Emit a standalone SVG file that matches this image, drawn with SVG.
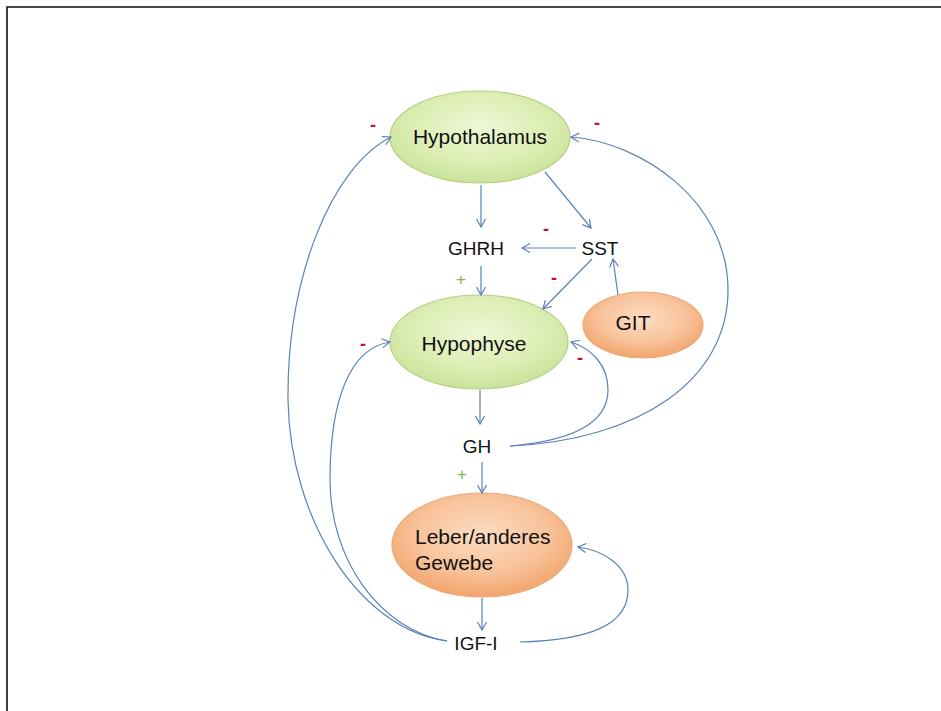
<svg xmlns="http://www.w3.org/2000/svg" width="941" height="711" viewBox="0 0 941 711">
<style>
.lbl{font-family:"Liberation Sans",Arial,sans-serif;font-size:19px;fill:#111;text-anchor:middle}
.nl{font-family:"Liberation Sans",Arial,sans-serif;font-size:21px;fill:#111;text-anchor:middle}
.minus{font-family:"Liberation Sans",Arial,sans-serif;font-size:18px;font-weight:bold;fill:#C0103A;text-anchor:middle}
.plus{font-family:"Liberation Sans",Arial,sans-serif;font-size:17px;fill:#7DB84A;text-anchor:middle}
.green{fill:url(#gG);stroke:#B5CF82;stroke-width:1.2}
.orange{fill:url(#gO);stroke:#E8AB7C;stroke-width:1.2}
.con path{fill:none;stroke:#5A82B8;stroke-width:1.2;marker-end:url(#arr)}
</style>
<defs>
<radialGradient id="gG" cx="0.5" cy="0.4" r="0.6">
<stop offset="0" stop-color="#EEF7D6"/>
<stop offset="0.6" stop-color="#DDEEB5"/>
<stop offset="1" stop-color="#C9E39A"/>
</radialGradient>
<radialGradient id="gO" cx="0.5" cy="0.4" r="0.6">
<stop offset="0" stop-color="#FCDCC2"/>
<stop offset="0.6" stop-color="#F8C39B"/>
<stop offset="1" stop-color="#F2A46C"/>
</radialGradient>
<marker id="arr" markerUnits="userSpaceOnUse" markerWidth="12" markerHeight="12" refX="9" refY="5" orient="auto">
<path d="M1,0.5 L9,5 L1,9.5" fill="none" stroke="#5A82B8" stroke-width="1.2"/>
</marker>
</defs>
<rect x="0" y="0" width="941" height="711" fill="#fff"/>
<path d="M7,711 L7,7 L941,7" fill="none" stroke="#111" stroke-width="1.6"/>

<g id="hypothalamus"><ellipse class="green" cx="480" cy="137" rx="90" ry="46"/><text class="nl" x="480" y="144">Hypothalamus</text></g>
<g id="hypophyse"><ellipse class="green" cx="479" cy="342" rx="89" ry="47"/><text class="nl" x="474" y="351">Hypophyse</text></g>
<g id="git"><ellipse class="orange" cx="643" cy="325" rx="60" ry="33"/><text class="nl" x="633" y="330">GIT</text></g>
<g id="leber"><ellipse class="orange" cx="482" cy="545" rx="90" ry="52"/><text class="nl" x="415" y="544" text-anchor="start" style="text-anchor:start">Leber/anderes</text><text class="nl" x="415" y="570" style="text-anchor:start">Gewebe</text></g>
<g id="ghrh"><text class="lbl" x="476" y="255">GHRH</text></g>
<g id="sst"><text class="lbl" x="600" y="255">SST</text></g>
<g id="gh"><text class="lbl" x="477" y="453">GH</text></g>
<g id="igf"><text class="lbl" x="476" y="650">IGF-I</text></g>

<g id="connectors" class="con">
<path d="M481,185 L481,227"/>
<path d="M545,172 L591,228"/>
<path d="M576,248 L522,248"/>
<path d="M481,266 L481,295"/>
<path d="M592,259 L543,309"/>
<path d="M618,295 L613,259"/>
<path d="M480,390 L480,424"/>
<path d="M482,462 L482,493"/>
<path d="M482,598 L482,630"/>
<path d="M510,446 C580,440 608,420 608,390 C608,365 592,349 571,342"/>
<path d="M510,446 C640,440 728,380 728,290 C728,200 640,142 571,137"/>
<path d="M447,641 C360,630 290,520 288,400 C287,280 330,168 391,137"/>
<path d="M447,641 C380,630 330,560 330,480 C330,400 350,348 390,342"/>
<path d="M520,642 C590,640 628,625 628,590 C628,565 602,550 578,547"/>
</g>

<g id="signs">
<text class="minus" x="373" y="131">-</text>
<text class="minus" x="597" y="129">-</text>
<text class="minus" x="546" y="235">-</text>
<text class="minus" x="554" y="284">-</text>
<text class="minus" x="363" y="350">-</text>
<text class="minus" x="580" y="364">-</text>
<text class="plus" x="461" y="285">+</text>
<text class="plus" x="462" y="480">+</text>
</g>
</svg>
